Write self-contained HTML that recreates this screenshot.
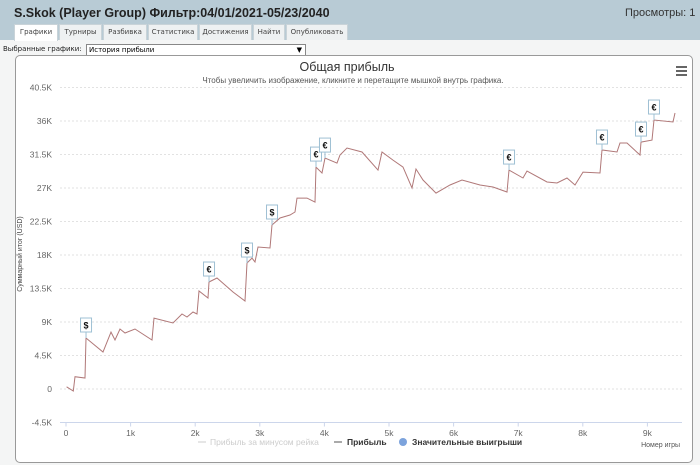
<!DOCTYPE html>
<html><head><meta charset="utf-8">
<style>
body{margin:0;width:700px;height:465px;overflow:hidden;background:#f4f5f5;font-family:"Liberation Sans","DejaVu Sans",sans-serif;position:relative}
#hdr{position:absolute;left:0;top:0;width:700px;height:40px;background:#b8cbd5}
#title{position:absolute;left:14px;top:6px;font-size:12.5px;font-weight:bold;color:#222}
#views{position:absolute;left:625px;top:7px;font-size:11px;color:#333}
.tab{position:absolute;top:24px;height:15px;font-size:7px;color:#444;background:#eef1f2;border:1px solid #c9d3d8;border-bottom:none;text-align:center;line-height:15px;font-family:"DejaVu Sans",sans-serif;overflow:hidden;white-space:nowrap}
.tab.act{background:#fff;height:16px}
#sel-lbl{position:absolute;left:3px;top:45px;font-size:7px;color:#222;font-family:"DejaVu Sans",sans-serif}
#sel{position:absolute;left:86px;top:44px;width:216px;height:10px;border:1px solid #888;background:#fff;font-size:7px;line-height:10px;padding-left:2px;font-family:"DejaVu Sans",sans-serif}
#box{position:absolute;left:15px;top:55px;width:676px;height:406px;border:1px solid #999;border-radius:5px;background:#fff}
svg{position:absolute;left:0;top:0}
</style></head><body>
<div id="hdr"></div>
<div id="title">S.Skok (Player Group) Фильтр:04/01/2021-05/23/2040</div>
<div id="views">Просмотры: 1</div>
<div class="tab act" style="left:14px;width:42px">Графики</div>
<div class="tab" style="left:59px;width:41px">Турниры</div>
<div class="tab" style="left:103px;width:42px">Разбивка</div>
<div class="tab" style="left:148px;width:48px">Статистика</div>
<div class="tab" style="left:199px;width:51px">Достижения</div>
<div class="tab" style="left:253px;width:30px">Найти</div>
<div class="tab" style="left:286px;width:60px">Опубликовать</div>
<div id="sel-lbl">Выбранные графики:</div>
<div id="sel">История прибыли<span style="position:absolute;right:3px;top:0">▼</span></div>
<div id="box"></div>
<svg id="chart" width="700" height="465">
<text x="347" y="71" text-anchor="middle" font-size="12.5" fill="#333">Общая прибыль</text>
<text x="353" y="83" text-anchor="middle" font-size="8" fill="#555">Чтобы увеличить изображение, кликните и перетащите мышкой внутрь графика.</text>
<g fill="#666"><rect x="676" y="66" width="11" height="2"/><rect x="676" y="70" width="11" height="2"/><rect x="676" y="74" width="11" height="2"/></g>
<text x="22" y="254" transform="rotate(-90 22 254)" text-anchor="middle" font-size="7" fill="#444">Суммарный итог (USD)</text>
<g id="grid"></g><g id="ylab"></g><g id="xlab"></g><g id="series"></g><g id="flags"></g>
<g font-size="8.5">
<line x1="198" y1="442" x2="206" y2="442" stroke="#ccc"/>
<text x="210" y="445" fill="#ccc">Прибыль за минусом рейка</text>
<line x1="334" y1="442" x2="342" y2="442" stroke="#555"/>
<text x="347" y="445" fill="#333" font-weight="bold">Прибыль</text>
<circle cx="403" cy="442" r="4" fill="#7ca3dc"/>
<text x="412" y="445" fill="#333" font-weight="bold">Значительные выигрыши</text>
</g>
<text x="680" y="447" text-anchor="end" font-size="7" fill="#555">Номер игры</text>
</svg>
<script>
const yTicks=[-4500,0,4500,9000,13500,18000,22500,27000,31500,36000,40500];
const yTickLabels=["-4.5K","0","4.5K","9K","13.5K","18K","22.5K","27K","31.5K","36K","40.5K"];
const xTicks=[0,1000,2000,3000,4000,5000,6000,7000,8000,9000];
const xTickLabels=["0","1k","2k","3k","4k","5k","6k","7k","8k","9k"];
const games=[10,113,139,294,310,573,697,759,836,913,1068,1331,1362,1656,1796,1873,1966,2028,2059,2198,2214,2337,2585,2771,2802,2879,2926,2972,3158,3189,3313,3468,3545,3576,3731,3855,3870,3963,4009,4195,4241,4350,4582,4830,4892,5062,5217,5356,5418,5526,5728,5944,6130,6409,6610,6827,6858,7074,7136,7446,7601,7755,7879,8003,8266,8297,8529,8576,8684,8885,8901,9071,9102,9396,9427];
const profit=[300,-270,1650,1480,6850,4970,7650,6580,8060,7520,8060,6580,9530,8860,10070,9670,10340,10070,13160,12220,14370,14910,13030,11820,16920,17590,17060,19070,18940,22030,22970,23370,23770,25650,25650,25110,29810,29010,31020,30350,31430,32370,31830,29410,31830,30750,29810,27000,29550,28070,26320,27400,28070,27400,27130,26460,29410,28340,29280,27800,27670,28340,27400,29140,29010,32100,31830,33040,33040,31430,33170,33440,36130,35860,37070];
const flagGames=[310,2214,2802,3189,3870,4009,6858,8297,8901,9102];
const flagSymbols=["$","€","$","$","€","€","€","€","€","€"];
const NS="http://www.w3.org/2000/svg";
function xs(g){return 66+g*0.0646;}
function ys(v){return 389-v*33.5/4500;}
function mk(t,a,p){const e=document.createElementNS(NS,t);for(const k in a)e.setAttribute(k,a[k]);p.appendChild(e);return e;}
const grid=document.getElementById('grid'),yl=document.getElementById('ylab'),xl=document.getElementById('xlab');
yTicks.forEach((v,i)=>{
 const l=mk('line',{x1:60,x2:682,y1:ys(v),y2:ys(v),stroke:i==0?'#ccd6eb':'#e2e2e2','stroke-dasharray':i==0?'':'2,2'},grid);
 
 
 const t=mk('text',{x:52,y:ys(v)+3,'text-anchor':'end','font-size':8.5,fill:'#666'},yl);t.textContent=yTickLabels[i];
 
 
});
xTicks.forEach((g,i)=>{
 mk('line',{x1:xs(g),x2:xs(g),y1:ys(-4500),y2:ys(-4500)+4,stroke:'#ccd6eb'},grid);
 const t=mk('text',{x:xs(g),y:436,'text-anchor':'middle','font-size':8.5,fill:'#666'},xl);t.textContent=xTickLabels[i];
 
 
});
const pts=games.map((g,i)=>xs(g).toFixed(1)+','+ys(profit[i]).toFixed(1)).join(' ');
const pl=mk('polyline',{points:pts,fill:'none',stroke:'#b07878','stroke-width':1},document.getElementById('series'));


const fg=document.getElementById('flags');
flagGames.forEach((g,i)=>{
 const idx=games.indexOf(g);const x=xs(g),y=ys(profit[idx]);
 const grp=mk('g',{},fg);
 
 
 mk('line',{x1:x,x2:x,y1:y,y2:y-6,stroke:'#9fc0d4'},grp);
 mk('rect',{x:x-5.5,y:y-20,width:11,height:14,fill:'#fff',stroke:'#9fc0d4'},grp);
 const t=mk('text',{x:x,y:y-9.5,'text-anchor':'middle','font-size':9,'font-weight':'bold',fill:'#111'},grp);t.textContent=flagSymbols[i];
});
</script>
</body></html>
